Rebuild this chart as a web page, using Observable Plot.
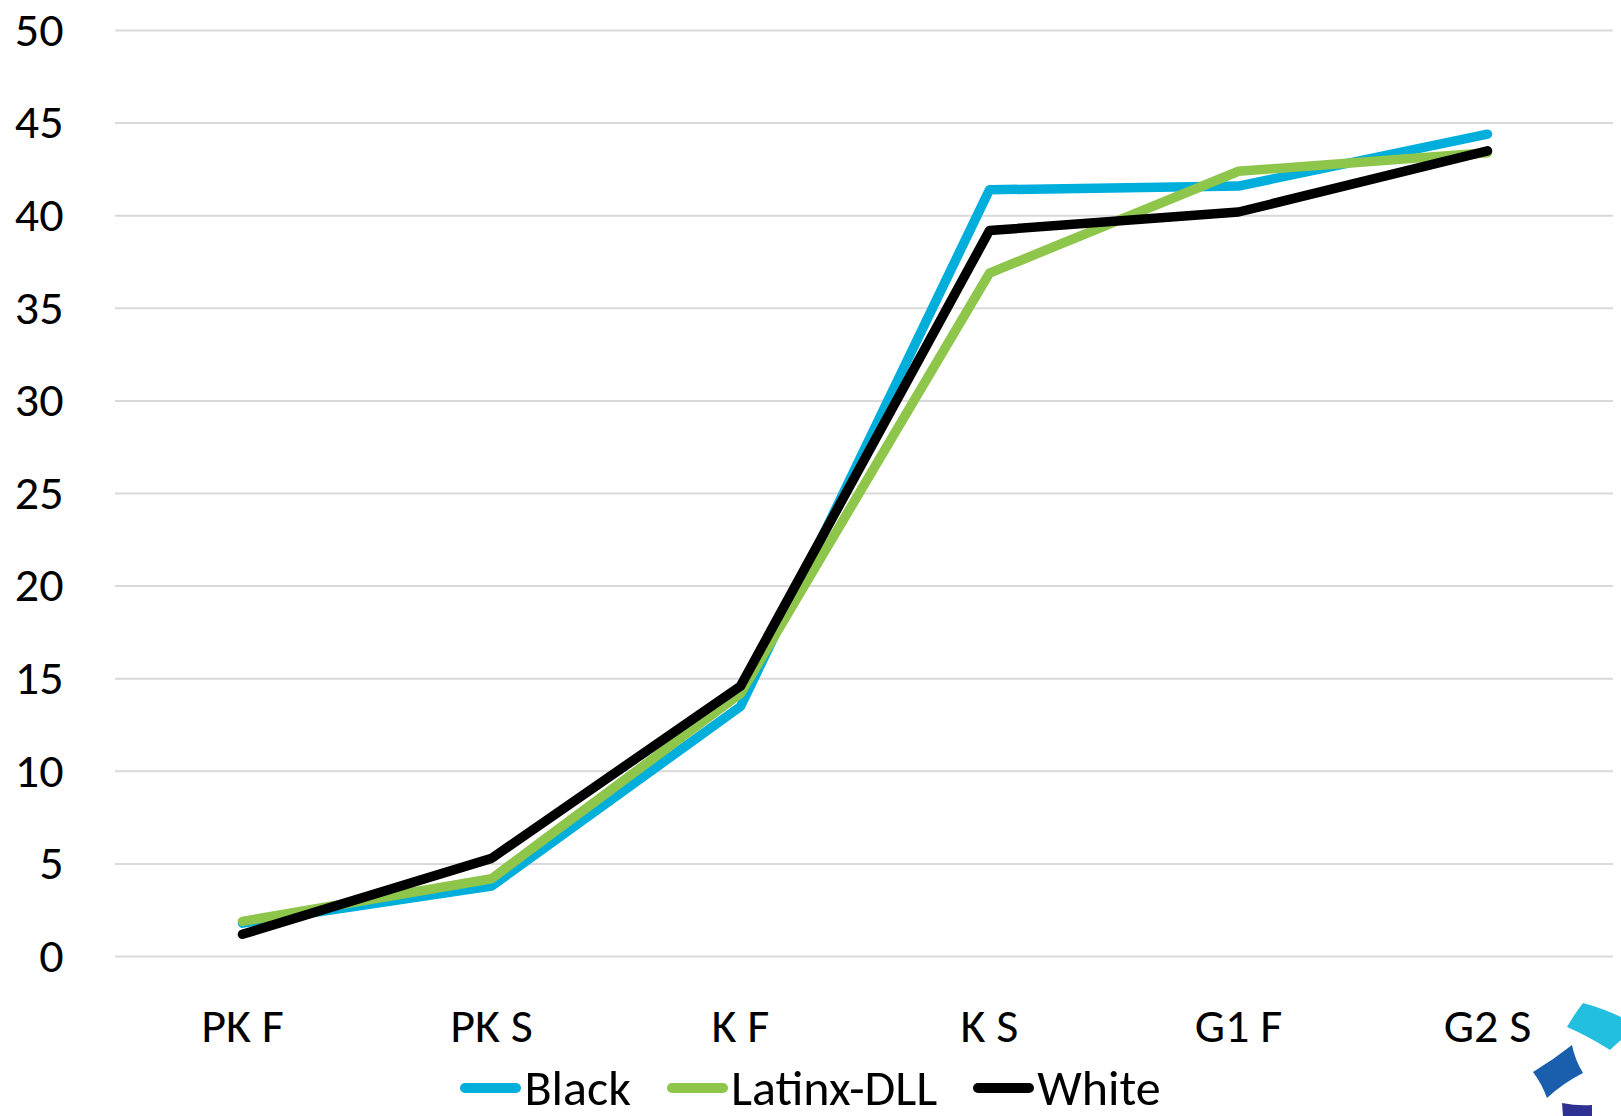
<!DOCTYPE html>
<html>
<head>
<meta charset="utf-8">
<script src="https://cdn.jsdelivr.net/npm/d3@7"></script>
<script src="https://cdn.jsdelivr.net/npm/@observablehq/plot@0.6"></script>
<style>
  html, body { margin: 0; padding: 0; background: #fff; }
  body { width: 1621px; height: 1116px; position: relative; overflow: hidden; font-family: Carlito, Calibri, Lato, "Open Sans", sans-serif; }
  #legend { display: flex; justify-content: center; align-items: center; height: 56px; line-height: 1; font-size: 50px; color: #000; }
  .item { display: flex; align-items: center; margin: 0 18px; }
  .sw { width: 61px; height: 10px; border-radius: 5px; margin-right: 3px; }
  #logo { position: absolute; left: 0; top: 0; pointer-events: none; }
</style>
</head>
<body>
<div id="chart"></div>
<div id="legend"></div>
<script>
const categories = ["PK F", "PK S", "K F", "K S", "G1 F", "G2 S"];
const seriesNames = ["Black", "Latinx-DLL", "White"];
const seriesColors = ["#00AEDB", "#8DC64B", "#000000"];
const blackValues = [1.8, 3.8, 13.5, 41.4, 41.6, 44.4];
const latinxValues = [1.9, 4.2, 14.2, 36.9, 42.4, 43.4];
const whiteValues = [1.2, 5.3, 14.6, 39.2, 40.2, 43.5];
const yTicks = [0, 5, 10, 15, 20, 25, 30, 35, 40, 45, 50];

const allValues = [blackValues, latinxValues, whiteValues];
const data = [];
seriesNames.forEach((s, i) => {
  categories.forEach((c, j) => data.push({series: s, cat: c, value: allValues[i][j]}));
});

const FONT = 'Carlito, Calibri, Lato, "Open Sans", sans-serif';

const chart = Plot.plot({
  width: 1621,
  height: 1060,
  marginLeft: 115,
  marginRight: 8,
  marginTop: 30,
  marginBottom: 104,
  style: { fontFamily: FONT, fontSize: "48px", color: "#000", background: "#fff" },
  x: { type: "point", domain: categories, padding: 0.5, label: null },
  y: { domain: [0, 50], label: null },
  marks: [
    Plot.gridY(yTicks, { stroke: "#d9d9d9", strokeOpacity: 1, strokeWidth: 2 }),
    Plot.axisY(yTicks, { tickSize: 0, tickPadding: 52, fontSize: 48, label: null }),
    Plot.axisX({ tickSize: 0, tickPadding: 51, fontSize: 48, label: null }),
    ...seriesNames.map((s, i) => Plot.line(data.filter(d => d.series === s), {
      x: "cat", y: "value", stroke: seriesColors[i], strokeWidth: 9.5,
      strokeLinecap: "round", strokeLinejoin: "round"
    }))
  ]
});
document.getElementById("chart").appendChild(chart);

const legend = document.getElementById("legend");
seriesNames.forEach((s, i) => {
  const it = document.createElement("div");
  it.className = "item";
  const sw = document.createElement("div");
  sw.className = "sw";
  sw.style.background = seriesColors[i];
  const tx = document.createElement("span");
  tx.textContent = s;
  it.appendChild(sw); it.appendChild(tx);
  legend.appendChild(it);
});

// decorative partial logo in the bottom-right corner
const ns = "http://www.w3.org/2000/svg";
const logo = document.createElementNS(ns, "svg");
logo.setAttribute("id", "logo");
logo.setAttribute("width", 1621);
logo.setAttribute("height", 1116);
const shapes = [
  ["#22BFDF", "M1567,1027 Q1575,1013 1583,1003 Q1602,1008 1621,1017 L1621,1040 Q1615,1045 1610,1050 Q1588,1036 1567,1027 Z"],
  ["#1A5FAD", "M1533,1072 Q1553,1060 1572,1045 Q1575,1060 1583,1073 Q1563,1083 1547,1098 Q1542,1084 1533,1072 Z"],
  ["#2E3192", "M1562,1103 Q1577,1106 1592,1105 L1592,1116 L1563,1116 Z"]
];
shapes.forEach(([fill, d]) => {
  const p = document.createElementNS(ns, "path");
  p.setAttribute("d", d);
  p.setAttribute("fill", fill);
  logo.appendChild(p);
});
document.body.appendChild(logo);
</script>
</body>
</html>
